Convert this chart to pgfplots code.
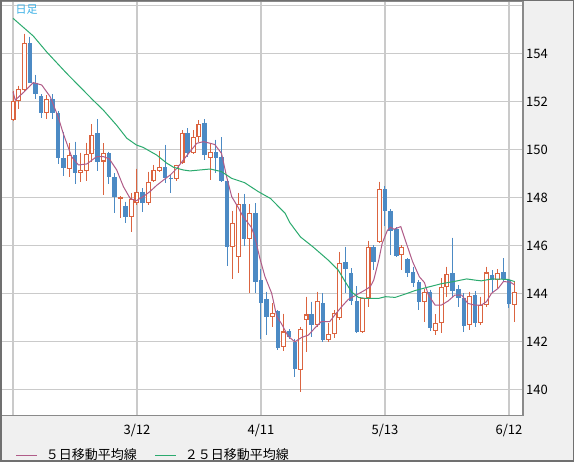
\documentclass[border=0pt]{standalone}
\usepackage{fontspec}
\setmainfont{Noto Sans CJK JP}
\usepackage{pgfplots}
\usepackage{pgfplotstable}
\pgfplotsset{compat=1.18}
\definecolor{bgc}{HTML}{F0F0F0}
\definecolor{framec}{HTML}{707070}
\definecolor{axc}{HTML}{8A8A8A}
\definecolor{gridc}{HTML}{CACACA}
\definecolor{upcol}{HTML}{DB6440}
\definecolor{dncol}{HTML}{4C8AC4}
\definecolor{mafive}{HTML}{B05C88}
\definecolor{matwfive}{HTML}{2BAA6E}
\definecolor{titc}{HTML}{3AB0E6}

% rising candles (close >= open)
\pgfplotstableread{
i o h l c
0 151.21 152.45 151.20 152.00
1 152.00 152.65 151.68 152.50
2 152.47 154.82 152.45 154.42
6 151.50 152.26 151.25 152.08
10 149.17 150.28 148.86 149.76
12 149.00 149.86 148.65 149.14
13 149.11 150.28 148.69 149.80
14 149.79 151.05 149.49 150.60
16 149.49 150.25 148.10 149.83
19 147.95 148.05 147.12 148.02
21 147.17 148.17 146.57 147.92
22 147.75 149.20 147.70 148.24
24 147.75 149.07 147.70 148.65
25 148.69 149.35 148.65 149.14
26 149.11 149.94 149.05 149.25
29 148.75 149.35 148.70 149.35
30 149.42 150.80 149.40 150.69
32 149.83 150.80 149.80 150.50
33 150.50 151.22 150.30 151.05
35 149.62 150.25 148.72 149.90
39 145.94 147.44 144.58 146.94
40 145.53 148.19 144.83 147.72
42 146.28 147.72 144.00 147.33
46 143.00 143.58 142.61 143.17
48 141.75 143.15 141.61 142.41
51 140.80 142.60 139.90 142.53
52 142.87 143.86 141.57 143.12
54 142.66 144.07 142.60 143.69
56 142.05 142.75 141.98 142.29
57 142.29 143.30 142.12 143.19
58 142.96 145.73 142.90 145.28
62 142.40 143.80 142.35 143.79
63 143.79 146.20 143.44 145.92
65 146.12 148.65 146.10 148.33
69 145.60 146.00 144.97 145.94
73 143.65 144.20 142.82 144.05
75 142.43 143.12 142.26 142.75
76 142.75 144.62 142.33 144.28
77 144.28 145.11 143.86 144.79
81 142.68 144.07 142.47 143.90
83 142.75 143.86 142.70 143.51
84 143.51 145.11 143.45 144.87
86 144.55 145.00 144.21 144.83
89 143.51 144.50 142.82 144.05
}\updata

% falling candles (close < open)
\pgfplotstableread{
i o h l c
3 154.42 154.69 152.75 152.78
4 152.78 153.10 152.08 152.30
5 152.22 152.30 151.30 151.50
7 152.08 152.29 151.25 151.50
8 151.50 151.60 149.40 149.63
9 149.62 150.73 148.90 149.21
11 149.76 150.32 148.55 149.00
15 150.67 151.25 149.11 149.49
17 149.83 149.90 148.55 148.83
18 148.83 149.00 147.33 148.00
20 147.64 147.82 146.91 147.17
23 148.24 148.37 147.40 147.75
27 149.25 150.18 148.61 148.79
28 148.82 148.93 148.17 148.75
31 150.69 150.87 149.69 149.83
34 151.11 151.25 149.55 149.76
36 149.87 150.40 149.00 149.62
37 149.66 150.50 148.65 148.69
38 148.69 148.75 145.14 145.94
41 147.72 148.14 145.97 146.28
43 147.33 147.75 144.00 144.49
44 144.55 145.00 142.08 143.61
45 143.75 144.07 142.26 143.00
47 143.25 143.30 141.62 141.73
49 142.43 142.50 142.08 142.19
50 141.98 142.10 140.53 140.83
53 143.12 143.65 142.19 142.66
55 143.58 144.00 141.99 142.05
59 145.29 145.94 144.00 145.00
60 144.83 145.04 143.50 143.69
61 143.69 144.30 142.36 142.40
64 145.92 146.00 144.97 145.32
66 148.33 148.47 146.80 147.44
67 147.44 147.50 145.60 146.61
68 146.67 146.75 145.50 145.55
70 145.43 145.46 144.67 144.83
71 144.87 145.11 144.25 144.44
72 144.46 144.55 143.30 143.65
74 144.07 144.15 142.43 142.54
78 144.83 146.32 143.86 144.11
79 144.17 144.35 143.44 143.79
80 143.82 144.00 142.40 142.65
82 143.93 144.10 142.61 142.75
85 144.76 144.97 144.07 144.55
87 144.87 145.46 144.50 144.60
88 144.55 144.60 143.37 143.54
}\dndata

\pgfplotsset{
  candle/.style={forget plot, only marks, mark=*, mark size=0pt,
    mark options={draw=none, fill=none}},
}

\begin{document}
\begin{tikzpicture}[x=1bp,y=1bp]
\useasboundingbox (0,0) rectangle (574,462);
\fill[bgc] (0,0) rectangle (574,462);
\begin{axis}[
  at={(1bp,46.5bp)}, anchor=south west,
  scale only axis, width=522bp, height=414.5bp,
  xmin=-2.13, xmax=90.49, ymin=138.91, ymax=156.18,
  axis background/.style={fill=white},
  axis line style={draw=axc, line width=1.2bp},
  xtick={0,22,44,66,88}, xticklabels={,3/12,4/11,5/13,6/12},
  ytick={140,142,144,146,148,150,152,154,156},
  yticklabels={140,142,144,146,148,150,152,154,},
  yticklabel pos=right, ytick pos=right, xtick pos=bottom,
  major tick length=0pt,
  grid=major, major grid style={draw=gridc, line width=1.2bp},
  tick label style={font=\fontsize{13bp}{13bp}\selectfont, text=black},
  yticklabel style={anchor=base west, inner sep=0pt, xshift=3bp, yshift=-4.8bp},
  xticklabel style={anchor=base, inner sep=0pt, yshift=-19.5bp},
  legend columns=2,
  legend cell align=left,
  legend style={at={(0.0287,-0.0953)}, anchor=west, draw=none, fill=none,
    inner sep=0pt, outer sep=0pt,
    font=\fontsize{13bp}{13bp}\selectfont,
    nodes={inner sep=0pt},
    /tikz/every odd column/.append style={column sep=8bp},
    /tikz/every even column/.append style={column sep=18bp}},
  legend image code/.code={\draw[#1, line width=1bp] (0bp,0bp) -- (21bp,0bp);},
]
% wicks
\addplot[candle, color=upcol,
  error bars/.cd, y dir=minus, y explicit, error mark=none,
  error bar style={line width=1bp, solid, draw=upcol}]
  table[x=i, y=h, y error minus expr=\thisrow{h}-\thisrow{l}] {\updata};
\addplot[candle, color=dncol,
  error bars/.cd, y dir=minus, y explicit, error mark=none,
  error bar style={line width=1bp, solid, draw=dncol}]
  table[x=i, y=h, y error minus expr=\thisrow{h}-\thisrow{l}] {\dndata};
% falling bodies
\addplot[candle, color=dncol,
  error bars/.cd, y dir=minus, y explicit, error mark=none,
  error bar style={line width=4.6bp, solid, draw=dncol}]
  table[x=i, y=o, y error minus expr=\thisrow{o}-\thisrow{c}] {\dndata};
% rising bodies (hollow)
\addplot[candle, color=upcol,
  error bars/.cd, y dir=minus, y explicit, error mark=none,
  error bar style={line width=5bp, solid, draw=upcol}]
  table[x=i, y=c, y error minus expr=\thisrow{c}-\thisrow{o}] {\updata};
\addplot[candle, color=white,
  error bars/.cd, y dir=minus, y explicit, error mark=none,
  error bar style={line width=2.8bp, solid, draw=white}]
  table[x=i, y expr=\thisrow{c}-0.045, y error minus expr={max(\thisrow{c}-\thisrow{o}-0.09,0)}] {\updata};
% 5-day moving average
\addplot[color=mafive, line width=1bp, mark=none] coordinates {
(0,152.4) (0.4,152.05) (2,152.4) (3.6,152.78) (5.1,152.68) (6.6,152.19) (8.0,151.36) (8.9,150.67) (10.4,149.69) (11.6,149.35) (13.1,149.39) (14.8,149.69) (16,149.7) (17.1,149.6) (18.4,149.14) (19.6,148.44) (20.8,147.95) (21.9,147.86) (23.1,148.03) (24.3,148.24) (25.5,148.5) (26.7,148.72) (27.9,148.93) (29.1,149.21) (30.2,149.55) (31.4,149.9) (32.6,150.25) (33.8,150.32) (35,150.25) (35.8,150.2) (37.0,149.83) (37.9,148.86) (38.8,148.03) (39.9,147.6) (40.8,147.2) (42.3,146.75) (42.9,146.36) (43.8,145.46) (44.7,144.7) (45.9,144.0) (46.8,143.03) (47.6,142.75) (48.8,142.22) (50,141.98) (51.2,142.16) (52.4,142.26) (53.5,142.54) (54.7,142.82) (56.2,142.82) (57.1,143.1) (58.3,143.44) (59.5,143.75) (60.6,143.89) (62.5,144.14) (63.4,144.28) (64,144.55) (64.9,145.39) (65.5,146.08) (66.4,146.61) (67,146.75) (67.6,146.67) (68.8,146.78) (69.7,146.15) (70.9,145.32) (72.1,144.69) (73,144.45) (73.7,143.93) (74.9,143.51) (76,143.51) (77.2,143.68) (78.4,143.93) (79.6,143.93) (80.7,143.58) (81.9,143.51) (83.1,143.51) (84,143.65) (84.9,144.0) (86.1,144.21) (87,144.49) (88.2,144.47) (89,144.35)
};
\addlegendentry{５日移動平均線}
% 25-day moving average
\addplot[color=matwfive, line width=1bp, mark=none] coordinates {
(0,155.46) (3.6,154.72) (6.0,154.05) (9.5,153.17) (14.2,152.05) (16.0,151.64) (18.4,151.0) (20.2,150.46) (21.9,150.18) (23.1,150.08) (25.5,149.76) (27.3,149.42) (28.5,149.25) (30.2,149.14) (31.4,149.1) (33.2,149.14) (35,149.18) (37,149.07) (38.8,148.79) (41.1,148.61) (43.5,148.24) (45.7,147.95) (48.3,147.33) (49.1,146.95) (51,146.35) (53.2,145.94) (55.9,145.39) (57.7,144.97) (58.9,144.5) (60.1,144.05) (61.3,143.83) (62.5,143.79) (64.9,143.79) (66.1,143.86) (67.8,143.83) (69.6,143.97) (71.4,144.12) (73.5,144.25) (76,144.4) (78.4,144.5) (80.5,144.6) (82,144.55) (83.1,144.52) (85,144.6) (87.8,144.58) (89,144.49)
};
\addlegendentry{２５日移動平均線}
\end{axis}
\node[anchor=west, text=titc, font=\fontsize{11bp}{11bp}\selectfont, inner sep=0pt] at (15.5,452) {日足};
\draw[framec, line width=1.5bp] (0.75,0.75) rectangle (573.25,461.25);
\end{tikzpicture}
\end{document}
